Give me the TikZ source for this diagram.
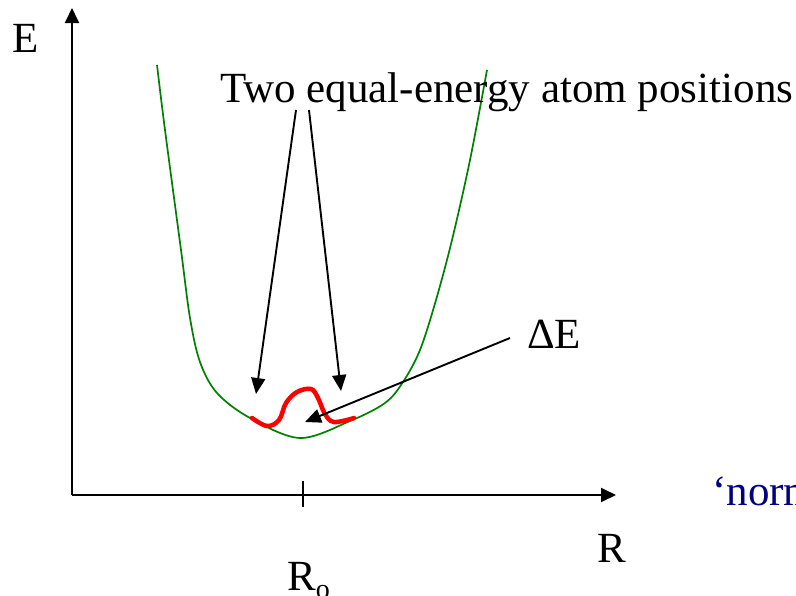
\documentclass[tikz,border=0pt]{standalone}
\usepackage{fontspec}
\setmainfont{Liberation Serif}
\usetikzlibrary{arrows.meta}
\definecolor{curvegreen}{RGB}{0,128,0}
\definecolor{navytext}{RGB}{0,0,128}
\begin{document}
\begin{tikzpicture}[x=1pt,y=-1pt,
  lbl/.style={inner sep=0pt,anchor=base west,font=\fontsize{43}{48}\selectfont},
  axis/.style={line width=1.9pt,-{Triangle[length=15pt,width=14pt]}},
  pointer/.style={line width=1.9pt,-{Triangle[length=16pt,width=14pt]}},
  energy/.style={curvegreen,line width=1.7pt},
  barrier/.style={red,line width=4.5pt,line cap=round}]
\useasboundingbox (0,0) rectangle (796,595);
% axes
\coordinate (O) at (72,495);
\coordinate (Etip) at (72,8);
\coordinate (Rtip) at (616,495);
\draw[axis] (O) -- (Etip);
\draw[axis] (O) -- (Rtip);
\coordinate (tickA) at (303,481);
\coordinate (tickB) at (303,507);
\draw[line width=1.8pt] (tickA) -- (tickB);
% energy curve
\draw[energy] plot[smooth,tension=0.55] coordinates {(157,65) (165,130) (181,250) (190,318) (200,362) (217,393) (250,418) (300,438) (350,421) (385,403) (403,382) (420,350) (436,300) (452,240) (470,160) (487,70)};
% barrier (double well)
\draw[barrier] plot[smooth,tension=0.6] coordinates {(252,418) (267,426) (279,420) (286,403) (297,392) (311,389) (318,398) (325,414) (334,422) (354,418)};
% labels
\node[lbl] (Elab) at (12,52) {E};
\node[lbl] (Rlab) at (597,562) {R};
\node[lbl] (R0lab) at (287,590) {R\raisebox{-8pt}{\fontsize{28}{28}\selectfont o}};
\node[lbl] (two) at (220,102) {Two equal-energy atom positions};
\node[lbl] (dE) at (527,348) {ΔE};
\node[lbl,text=navytext] (norm) at (712,505) {‘norm};
% pointers
\coordinate (pL) at (296,110);
\coordinate (pR) at (309,110);
\coordinate (tL) at (256,394);
\coordinate (tR) at (341,391);
\coordinate (pE) at (510,338);
\coordinate (tE) at (305,422);
\draw[pointer] (pL) -- (tL);
\draw[pointer] (pR) -- (tR);
\draw[pointer] (pE) -- (tE);
\end{tikzpicture}
\end{document}
